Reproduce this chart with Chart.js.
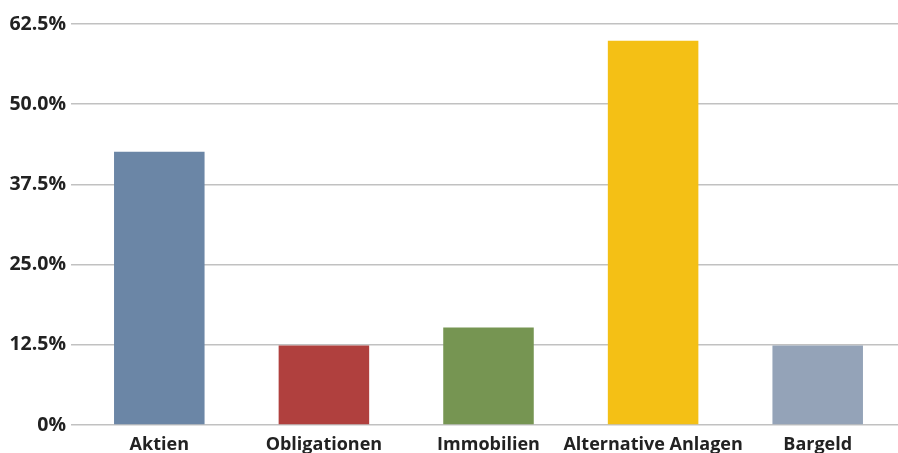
<!DOCTYPE html>
<html lang="de">
<head>
<meta charset="UTF-8">
<title>Allokation</title>
<script src="https://cdn.jsdelivr.net/npm/chart.js@4"></script>
<style>
  html, body { margin: 0; padding: 0; background: #fff; overflow: hidden; }
  #wrap { width: 900px; height: 453px; }
</style>
</head>
<body>
<div id="wrap"><canvas id="chart"></canvas></div>
<script>
// Daten
const categories = ['Aktien', 'Obligationen', 'Immobilien', 'Alternative Anlagen', 'Bargeld'];
const values = [42.6, 12.4, 15.2, 59.9, 12.4];
const barColors = ['#6b86a6', '#b0403e', '#769552', '#f4c015', '#94a3b8'];
const yTicks = [0, 12.5, 25, 37.5, 50, 62.5];
const yTickLabels = ['0%', '12.5%', '25.0%', '37.5%', '50.0%', '62.5%'];

const xFont = { family: '"Open Sans", sans-serif', size: 18, weight: 'bold' };
const yFont = { family: '"Open Sans", sans-serif', size: 19.5, weight: 'bold' };

new Chart(document.getElementById('chart'), {
    type: 'bar',
    data: {
        labels: categories,
        datasets: [{
            data: values,
            backgroundColor: barColors,
            barPercentage: 0.55,
            categoryPercentage: 1.0
        }]
    },
    options: {
        responsive: true,
        maintainAspectRatio: false,
        animation: false,
        layout: { padding: { top: 24, right: 0, bottom: 0, left: 0 } },
        plugins: { legend: { display: false }, tooltip: { enabled: false } },
        scales: {
            x: {
                grid: { display: false },
                border: { display: false },
                afterFit: (axis) => { axis.height = 28; },
                ticks: { color: '#222', font: xFont, padding: 1, maxRotation: 0, autoSkip: false }
            },
            y: {
                min: 0,
                max: 62.5,
                z: 1,
                afterFit: (axis) => { axis.width = 77; },
                afterBuildTicks: (axis) => { axis.ticks = yTicks.map(v => ({ value: v })); },
                grid: { color: 'rgba(177,177,177,0.8)', lineWidth: 1.5, tickLength: 6 },
                border: { display: false },
                ticks: {
                    color: '#222',
                    font: yFont,
                    padding: 5,
                    callback: (v) => yTickLabels[yTicks.indexOf(v)]
                }
            }
        }
    }
});
</script>
</body>
</html>
